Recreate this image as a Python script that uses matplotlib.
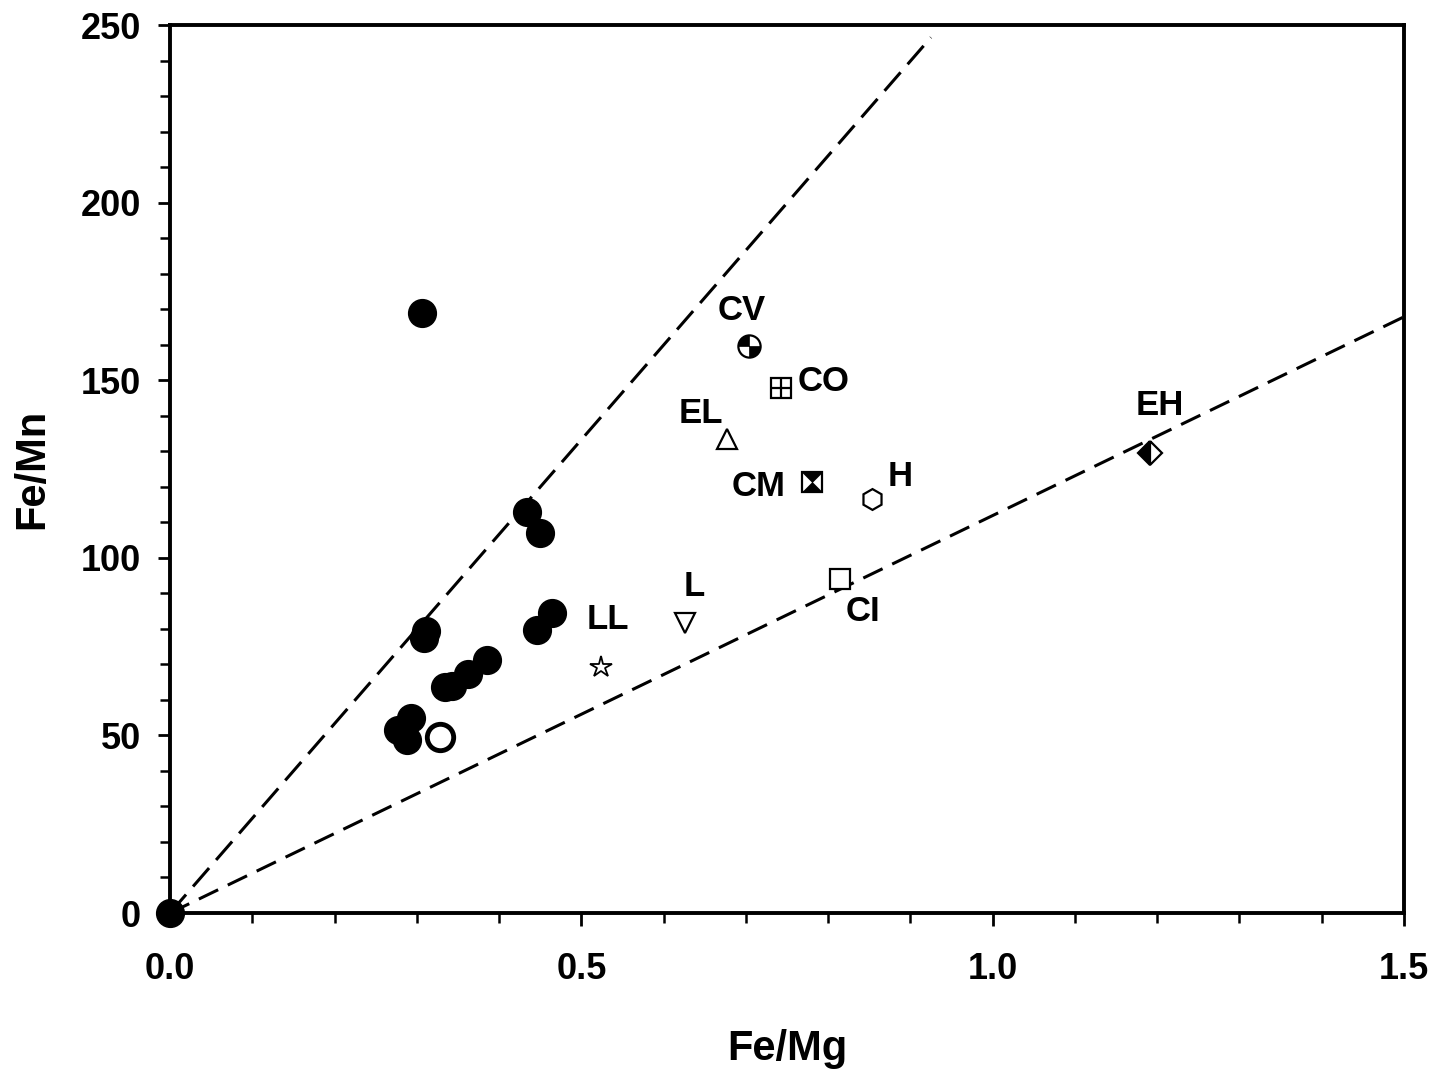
import numpy as np
import matplotlib
matplotlib.use("Agg")
import matplotlib.pyplot as plt
from matplotlib.path import Path

plt.rcParams['font.family'] = ['Liberation Sans', 'DejaVu Sans']
plt.rcParams['font.weight'] = 'bold'

# filled circles (samples)
fe_mg_samples = [0.0, 0.306, 0.434, 0.450, 0.309, 0.311, 0.464, 0.446, 0.385, 0.362,
                 0.343, 0.334, 0.277, 0.293, 0.288]
fe_mn_samples = [0.0, 168.9, 112.9, 107.0, 77.5, 79.5, 84.5, 79.7, 71.2, 67.3,
                 63.9, 63.6, 51.5, 55.0, 48.7]

# open circle
fe_mg_open = [0.328]
fe_mn_open = [49.5]

# chondrite groups
groups = ['CV', 'CO', 'EL', 'CM', 'H', 'EH', 'CI', 'L', 'LL']
group_fe_mg = [0.704, 0.743, 0.677, 0.780, 0.853, 1.191, 0.814, 0.626, 0.524]
group_fe_mn = [159.6, 147.8, 133.4, 121.3, 116.6, 129.5, 94.0, 81.6, 69.3]

# reference lines through origin: slope, x end
line_slopes = [266.5, 111.9]
line_xmax = [0.925, 1.5]

fig = plt.figure(figsize=(14.48, 10.74), dpi=100)
ax = fig.add_axes([0.1174, 0.1499, 0.8522, 0.8268])

# lines
for s, xm, dash in zip(line_slopes, line_xmax, [(8, 3.5), (7, 3.5)]):
    xs = np.array([0.0, xm])
    ax.plot(xs, s * xs, color='black', lw=2.2, dashes=dash, zorder=2)

ax.plot(fe_mg_samples, fe_mn_samples, 'o', ms=20, color='black', zorder=4, clip_on=False)
ax.plot(fe_mg_open, fe_mn_open, 'o', ms=19, mfc='white', mec='black', mew=3.5, zorder=4)

ms = 15
mew = 1.6
kw = dict(mec='black', mew=mew, linestyle='none', zorder=5)

def grp(name):
    i = groups.index(name)
    return [group_fe_mg[i]], [group_fe_mn[i]]

# CV: circle with two black quadrants
quad = Path.make_compound_path(Path.wedge(90, 180), Path.wedge(270, 360))
x, y = grp('CV')
ax.plot(x, y, 'o', ms=ms + 1, mfc='white', **kw)
ax.plot(x, y, marker=quad, ms=ms + 1, mfc='black', mec='black', mew=0.5, linestyle='none', zorder=6)

# CO: square with cross
x, y = grp('CO')
ax.plot(x, y, 's', ms=ms - 1, mfc='white', **kw)
ax.plot(x, y, '+', ms=ms - 1, color='black', mew=mew, zorder=6)

# EL: triangle up
x, y = grp('EL')
ax.plot(x, y, '^', ms=ms, mfc='white', **kw)

# CM: square with hourglass (black top and bottom triangles)
hour = Path([(-1, 1), (1, 1), (0, 0), (-1, 1), (-1, -1), (1, -1), (0, 0), (-1, -1)],
            [Path.MOVETO, Path.LINETO, Path.LINETO, Path.CLOSEPOLY,
             Path.MOVETO, Path.LINETO, Path.LINETO, Path.CLOSEPOLY])
x, y = grp('CM')
ax.plot(x, y, 's', ms=ms - 1, mfc='white', **kw)
ax.plot(x, y, marker=hour, ms=ms - 1, mfc='black', mec='black', mew=0.5, linestyle='none', zorder=6)

# H: hexagon
x, y = grp('H')
ax.plot(x, y, 'h', ms=ms, mfc='white', **kw)

# EH: half-filled diamond
x, y = grp('EH')
ax.plot(x, y, 'D', ms=ms - 3, fillstyle='left', mfc='black', mfcalt='white', **kw)

# CI: square
x, y = grp('CI')
ax.plot(x, y, 's', ms=ms - 1, mfc='white', **kw)

# L: triangle down
x, y = grp('L')
ax.plot(x, y, 'v', ms=ms, mfc='white', **kw)

# LL: star
x, y = grp('LL')
ax.plot(x, y, '*', ms=ms + 1, mfc='white', mec='black', mew=1.3, linestyle='none', zorder=5)

# group labels
label_pos = {
    'CV': (0.695, 169.5), 'CO': (0.795, 149.5), 'EL': (0.645, 140.5),
    'CM': (0.716, 120.0), 'H': (0.887, 123.0), 'EH': (1.203, 143.0),
    'CI': (0.842, 85.0), 'L': (0.637, 92.0), 'LL': (0.532, 82.5),
}
for g in groups:
    lx, ly = label_pos[g]
    ax.text(lx, ly, g, fontsize=25, fontweight='bold', ha='center', va='center', zorder=7)

ax.set_xlim(0, 1.5)
ax.set_ylim(0, 250)
ax.set_xticks([0.0, 0.5, 1.0, 1.5])
ax.set_xticklabels(['0.0', '0.5', '1.0', '1.5'])
ax.set_yticks([0, 50, 100, 150, 200, 250])
ax.set_xticks(np.arange(0, 1.51, 0.1), minor=True)
ax.set_yticks(np.arange(0, 251, 10), minor=True)

for sp in ax.spines.values():
    sp.set_linewidth(2.8)
ax.tick_params(which='major', direction='out', length=9, width=2, labelsize=26,
               top=False, right=False)
ax.tick_params(which='minor', direction='out', length=7, width=1.8, top=False, right=False)
ax.tick_params(axis='x', which='major', pad=19)
ax.tick_params(axis='y', which='major', pad=12)
for lab in ax.get_xticklabels() + ax.get_yticklabels():
    lab.set_fontweight('bold')

ax.set_xlabel('Fe/Mg', fontsize=30, fontweight='bold', labelpad=30)
ax.set_ylabel('Fe/Mn', fontsize=30, fontweight='bold', labelpad=20)

fig.savefig('out.png', dpi=100)
